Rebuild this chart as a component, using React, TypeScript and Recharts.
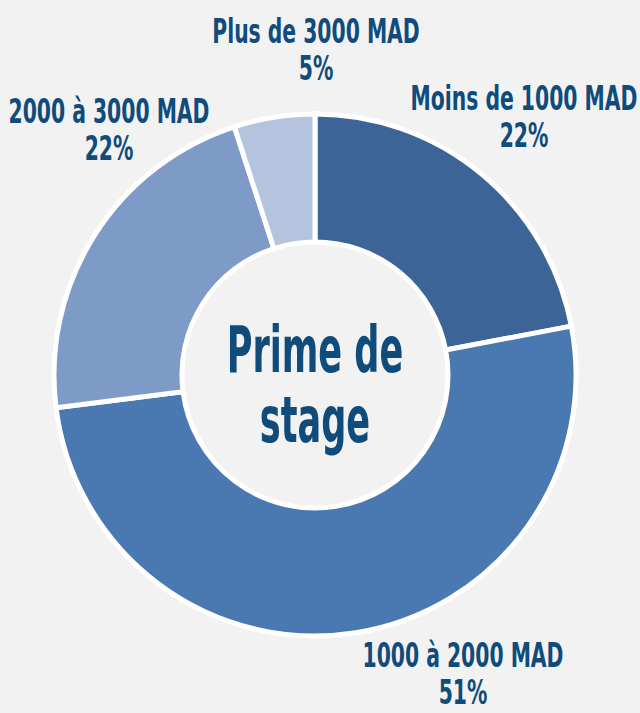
import { PieChart, Pie, Cell, Label } from "recharts"

const categories = ["Moins de 1000 MAD", "1000 à 2000 MAD", "2000 à 3000 MAD", "Plus de 3000 MAD"]
const shares = [22, 51, 22, 5]
const sliceColors = ["#3d6496", "#4a78b0", "#7e9bc8", "#b4c3de"]

const data = categories.map((name, i) => ({ name, value: shares[i] }))

const TEXT = "#0f4b7b"
const FONT = "'Liberation Sans Narrow', 'DejaVu Sans Condensed', 'Roboto Condensed', sans-serif"
const SQUEEZE = 0.665

// label block placement relative to the pie centre (first-line baseline)
const labelOffsets: Record<string, [number, number]> = {
  "Moins de 1000 MAD": [209, -265],
  "1000 à 2000 MAD": [148, 292],
  "2000 à 3000 MAD": [-206, -252],
  "Plus de 3000 MAD": [1, -332],
}

function SliceLabel(props: any) {
  const { cx, cy, name, value } = props
  const off = labelOffsets[name] ?? [0, 0]
  const x = cx + off[0]
  const y = cy + off[1]
  return (
    <g transform={`translate(${x},0) scale(${SQUEEZE},1)`}>
      <text x={0} y={y} textAnchor="middle" fill={TEXT} fontFamily={FONT} fontWeight={700} fontSize={34}>
        {name}
      </text>
      <text x={0} y={y + 37} textAnchor="middle" fill={TEXT} fontFamily={FONT} fontWeight={700} fontSize={34}>
        {value}%
      </text>
    </g>
  )
}

function CenterTitle(props: any) {
  const vb = props.viewBox || {}
  const cx = vb.cx ?? 315
  const cy = vb.cy ?? 375
  return (
    <g transform={`translate(${cx},0) scale(0.61,1)`}>
      <text x={0} y={cy - 3} textAnchor="middle" fill={TEXT} fontFamily={FONT} fontWeight={700} fontSize={64}>
        Prime de
      </text>
      <text x={0} y={cy + 67} textAnchor="middle" fill={TEXT} fontFamily={FONT} fontWeight={700} fontSize={64}>
        stage
      </text>
    </g>
  )
}

export default function App() {
  return (
    <div style={{ position: "absolute", left: 0, top: 0, width: 640, height: 713, background: "#f2f2f2" }}>
      <PieChart width={640} height={713} margin={{ top: 0, right: 0, bottom: 0, left: 0 }}>
        <Pie
          data={data} dataKey="value" nameKey="name"
          cx={315} cy={375} innerRadius={133} outerRadius={261}
          startAngle={90} endAngle={-270}
          stroke="#ffffff" strokeWidth={5}
          label={SliceLabel} labelLine={false}
          isAnimationActive={false}
        >
          {data.map((d, i) => <Cell key={d.name} fill={sliceColors[i]} />)}
          <Label position="center" content={CenterTitle} />
        </Pie>
      </PieChart>
    </div>
  )
}
